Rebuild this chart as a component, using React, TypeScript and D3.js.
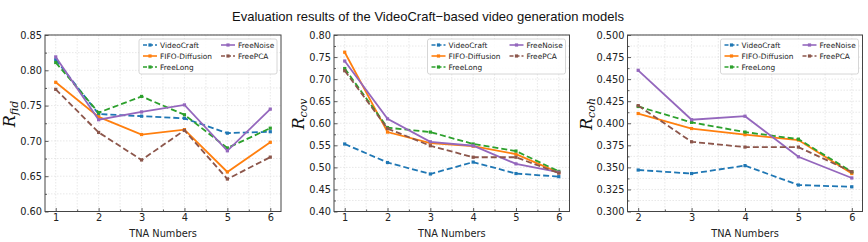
import React, { useRef, useEffect } from 'react';
import * as d3 from 'd3';

// chart values
const methods = ['VideoCraft', 'FIFO-Diffusion', 'FreeLong', 'FreeNoise', 'FreePCA'];
const tnaSix = [1, 2, 3, 4, 5, 6];
const tnaFive = [2, 3, 4, 5, 6];

const fidVideoCraft = [0.815, 0.738, 0.735, 0.732, 0.711, 0.713];
const fidFifo = [0.783, 0.734, 0.709, 0.716, 0.656, 0.698];
const fidFreeLong = [0.811, 0.740, 0.763, 0.737, 0.690, 0.718];
const fidFreeNoise = [0.819, 0.730, 0.741, 0.751, 0.686, 0.745];
const fidFreePCA = [0.773, 0.712, 0.673, 0.715, 0.646, 0.677];

const covVideoCraft = [0.553, 0.511, 0.485, 0.512, 0.486, 0.479];
const covFifo = [0.761, 0.580, 0.555, 0.548, 0.530, 0.488];
const covFreeLong = [0.724, 0.590, 0.580, 0.553, 0.537, 0.491];
const covFreeNoise = [0.741, 0.610, 0.558, 0.549, 0.508, 0.489];
const covFreePCA = [0.719, 0.588, 0.549, 0.523, 0.523, 0.487];

const cohVideoCraft = [0.347, 0.343, 0.352, 0.330, 0.328];
const cohFifo = [0.411, 0.394, 0.387, 0.381, 0.343];
const cohFreeLong = [0.419, 0.401, 0.390, 0.382, 0.345];
const cohFreeNoise = [0.460, 0.404, 0.408, 0.362, 0.338];
const cohFreePCA = [0.420, 0.379, 0.373, 0.373, 0.345];

const colors = {
  'VideoCraft': '#1f77b4',
  'FIFO-Diffusion': '#ff7f0e',
  'FreeLong': '#2ca02c',
  'FreeNoise': '#9467bd',
  'FreePCA': '#8c564b',
};
const dashed = ['VideoCraft', 'FreeLong', 'FreePCA'];

const panels = [
  {
    sub: 'fid', x: tnaSix, values: [fidVideoCraft, fidFifo, fidFreeLong, fidFreeNoise, fidFreePCA],
    left: 45, right: 281, xDomain: [0.75, 6.25], yMin: 0.6, yMax: 0.85, step: 0.05, fmt: '.2f', labelX: 15,
  },
  {
    sub: 'cov', x: tnaSix, values: [covVideoCraft, covFifo, covFreeLong, covFreeNoise, covFreePCA],
    left: 334, right: 569.5, xDomain: [0.75, 6.25], yMin: 0.4, yMax: 0.8, step: 0.05, fmt: '.2f', labelX: 304,
  },
  {
    sub: 'coh', x: tnaFive, values: [cohVideoCraft, cohFifo, cohFreeLong, cohFreeNoise, cohFreePCA],
    left: 627.5, right: 862.5, xDomain: [1.8, 6.2], yMin: 0.3, yMax: 0.5, step: 0.025, fmt: '.3f', labelX: 592,
  },
];

const TOP = 35;
const BOTTOM = 211.5;
const tickFont = 'DejaVu Sans, sans-serif';

const App = () => {
  const svgRef = useRef(null);

  useEffect(() => {
    const svg = d3.select(svgRef.current);
    svg.selectAll('*').remove();

    svg.append('rect').attr('width', 868).attr('height', 242).attr('fill', '#fff');

    svg.append('text')
      .attr('x', 428).attr('y', 21)
      .attr('text-anchor', 'middle')
      .style('font-family', 'Liberation Sans, Arial, sans-serif')
      .style('font-size', '13px')
      .attr('fill', '#111')
      .text('Evaluation results of the VideoCraft\u2212based video generation models');

    panels.forEach(p => {
      const xScale = d3.scaleLinear().domain(p.xDomain).range([p.left, p.right]);
      const yScale = d3.scaleLinear().domain([p.yMin, p.yMax]).range([BOTTOM, TOP]);

      const nMajor = Math.round((p.yMax - p.yMin) / p.step);
      const yMajor = d3.range(nMajor + 1).map(i => +(p.yMin + i * p.step).toFixed(4));
      const yMinor = d3.range(nMajor).map(i => +(p.yMin + (i + 0.5) * p.step).toFixed(5));
      const xMajor = p.x;
      const xMinor = d3.range(p.x.length - 1).map(i => p.x[i] + 0.5);

      const g = svg.append('g');

      // grid on major and minor ticks
      const grid = g.append('g')
        .attr('stroke', '#d9d9d9')
        .attr('stroke-width', 0.6)
        .attr('stroke-dasharray', '1.5,1.5');
      grid.selectAll('line.gx')
        .data([...xMajor, ...xMinor])
        .join('line')
        .attr('class', 'gx')
        .attr('x1', d => xScale(d)).attr('x2', d => xScale(d))
        .attr('y1', TOP).attr('y2', BOTTOM);
      grid.selectAll('line.gy')
        .data([...yMajor, ...yMinor])
        .join('line')
        .attr('class', 'gy')
        .attr('y1', d => yScale(d)).attr('y2', d => yScale(d))
        .attr('x1', p.left).attr('x2', p.right);

      // lines and markers
      const line = d3.line().x(d => xScale(d[0])).y(d => yScale(d[1]));
      methods.forEach((m, k) => {
        const pts = p.x.map((xv, i) => [xv, p.values[k][i]]);
        g.append('path')
          .datum(pts)
          .attr('d', line)
          .attr('fill', 'none')
          .attr('stroke', colors[m])
          .attr('stroke-width', 1.8)
          .attr('stroke-dasharray', dashed.includes(m) ? '6,3' : null);
        g.selectAll(`rect.mk${k}`)
          .data(pts)
          .join('rect')
          .attr('class', `mk${k}`)
          .attr('x', d => xScale(d[0]) - 1.6)
          .attr('y', d => yScale(d[1]) - 1.6)
          .attr('width', 3.2).attr('height', 3.2)
          .attr('fill', colors[m]);
      });

      // axes, ticks pointing inward
      const yAxis = g.append('g')
        .attr('transform', `translate(${p.left},0)`)
        .call(d3.axisLeft(yScale).tickValues(yMajor).tickSize(-3.5).tickPadding(3).tickFormat(d3.format(p.fmt)));
      g.append('g')
        .attr('transform', `translate(${p.left},0)`)
        .call(d3.axisLeft(yScale).tickValues(yMinor).tickSize(-2).tickFormat(() => ''));
      const xAxis = g.append('g')
        .attr('transform', `translate(0,${BOTTOM})`)
        .call(d3.axisBottom(xScale).tickValues(xMajor).tickSize(-3.5).tickPadding(3).tickFormat(d3.format('d')));
      g.append('g')
        .attr('transform', `translate(0,${BOTTOM})`)
        .call(d3.axisBottom(xScale).tickValues(xMinor).tickSize(-2).tickFormat(() => ''));

      g.selectAll('.domain').remove();
      g.selectAll('.tick line').attr('stroke', '#333').attr('stroke-width', 0.8);
      [yAxis, xAxis].forEach(a => a.selectAll('text')
        .style('font-family', tickFont)
        .style('font-size', '9.8px')
        .attr('fill', '#222'));

      g.append('rect')
        .attr('x', p.left).attr('y', TOP)
        .attr('width', p.right - p.left).attr('height', BOTTOM - TOP)
        .attr('fill', 'none')
        .attr('stroke', '#444')
        .attr('stroke-width', 1);

      // axis titles
      g.append('text')
        .attr('x', (p.left + p.right) / 2).attr('y', 237)
        .attr('text-anchor', 'middle')
        .style('font-family', tickFont)
        .style('font-size', '9.8px')
        .attr('fill', '#222')
        .text('TNA Numbers');

      const yl = g.append('text')
        .attr('transform', `translate(${p.labelX},114) rotate(-90)`)
        .attr('text-anchor', 'middle')
        .style('font-family', 'DejaVu Serif, serif')
        .style('font-style', 'italic')
        .attr('fill', '#111');
      yl.append('tspan').style('font-size', '16px').text('R');
      yl.append('tspan').style('font-size', '11px').attr('dy', 3).text(p.sub);

      // legend, two columns filled column-first
      const bx = p.right - 4 - 138;
      const by = TOP + 4;
      const lg = g.append('g').attr('transform', `translate(${bx},${by})`);
      lg.append('rect')
        .attr('width', 138).attr('height', 35)
        .attr('rx', 2)
        .attr('fill', '#fff').attr('fill-opacity', 0.85)
        .attr('stroke', '#ccc').attr('stroke-width', 0.8);
      methods.forEach((m, k) => {
        const col = k < 3 ? 0 : 1;
        const row = k < 3 ? k : k - 3;
        const ox = 4 + col * 78;
        const oy = 6 + row * 11;
        lg.append('line')
          .attr('x1', ox).attr('x2', ox + 14)
          .attr('y1', oy).attr('y2', oy)
          .attr('stroke', colors[m]).attr('stroke-width', 1.6)
          .attr('stroke-dasharray', dashed.includes(m) ? '4,2' : null);
        lg.append('rect')
          .attr('x', ox + 7 - 1.6).attr('y', oy - 1.6)
          .attr('width', 3.2).attr('height', 3.2)
          .attr('fill', colors[m]);
        lg.append('text')
          .attr('x', ox + 17).attr('y', oy)
          .attr('dy', '0.35em')
          .style('font-family', tickFont)
          .style('font-size', '7.4px')
          .attr('fill', '#222')
          .text(m);
      });
    });
  }, []);

  return (
    <svg ref={svgRef} width={868} height={242}
      style={{ position: 'absolute', left: 0, top: 0, display: 'block' }}></svg>
  );
};

export default App;
